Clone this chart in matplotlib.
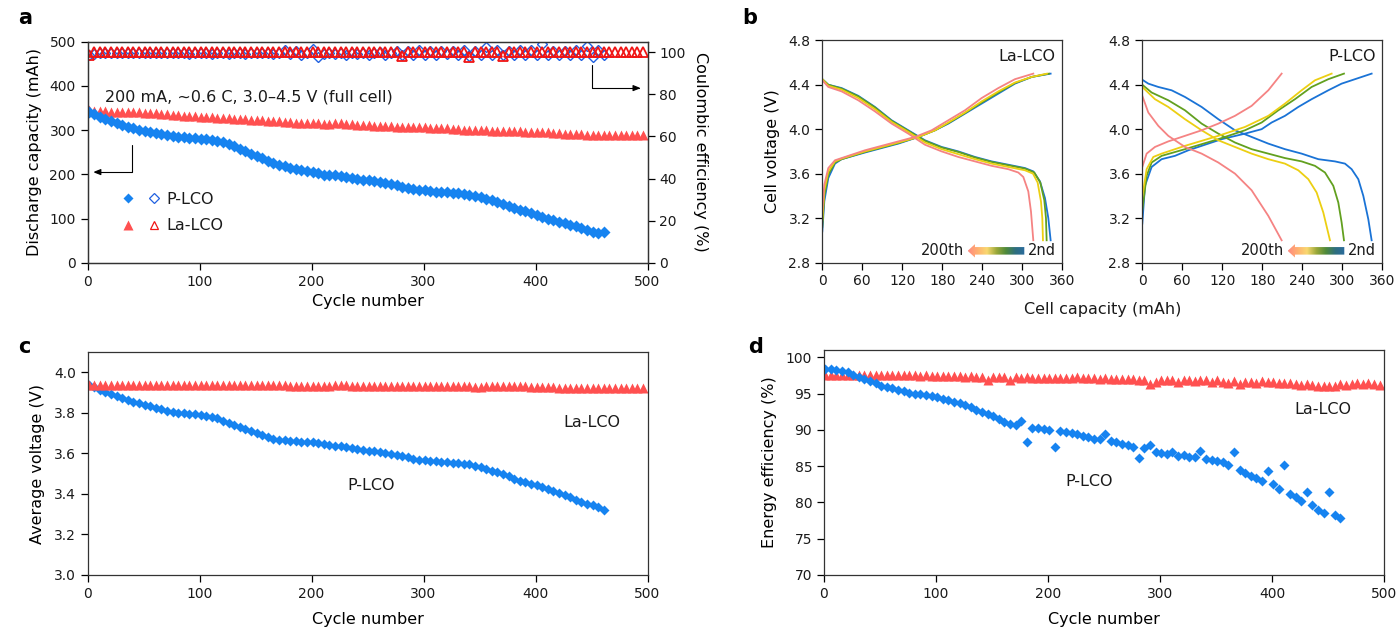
import numpy as np
import matplotlib
matplotlib.use("Agg")
import matplotlib.pyplot as plt
from matplotlib.patches import Polygon
from matplotlib.colors import LinearSegmentedColormap
from matplotlib.legend_handler import HandlerTuple
from matplotlib.lines import Line2D

plt.rcParams['font.family'] = ['DejaVu Sans']
plt.rcParams['axes.linewidth'] = 0.9
plt.rcParams['axes.edgecolor'] = '#333333'
plt.rcParams['xtick.major.size'] = 5
plt.rcParams['ytick.major.size'] = 5
plt.rcParams['xtick.major.width'] = 0.9
plt.rcParams['ytick.major.width'] = 0.9
plt.rcParams['xtick.labelsize'] = 10
plt.rcParams['ytick.labelsize'] = 10
plt.rcParams['text.color'] = '#1a1a1a'
plt.rcParams['xtick.labelcolor'] = '#1a1a1a'
plt.rcParams['ytick.labelcolor'] = '#1a1a1a'

# ---------------- data: cycling (sampled every 5 cycles) ----------------
CYCLE_STEP = 5
plco_capacity = [342, 336, 330, 325, 320, 315, 311, 307, 304, 301,
                 298, 295, 293, 291, 289, 287, 285, 284, 282, 281,
                 280, 279, 278, 276, 272, 268, 263, 257, 252, 246,
                 241, 236, 230, 225, 221, 218, 215, 212, 210, 208,
                 206, 203, 199, 199, 198, 196, 194, 192, 190, 188,
                 186, 184, 182, 180, 178, 175, 172, 169, 167, 165,
                 164, 163, 161, 160, 159, 158, 157, 156, 154, 151,
                 148, 145, 141, 137, 133, 129, 124, 120, 116, 112,
                 108, 104, 100, 96, 93, 89, 85, 82, 79, 75,
                 70, 68, 69]
lalco_capacity = [345, 344, 343, 343, 342, 342, 341, 341, 340, 340,
                  339, 338, 338, 337, 336, 335, 334, 333, 332, 331,
                  330, 330, 329, 328, 328, 327, 326, 325, 324, 323,
                  322, 322, 321, 320, 320, 319, 318, 317, 317, 316,
                  315, 315, 314, 314, 315, 316, 314, 313, 312, 311,
                  311, 310, 310, 309, 309, 308, 308, 307, 307, 306,
                  306, 305, 305, 304, 304, 303, 302, 301, 300, 300,
                  301, 300, 299, 298, 297, 298, 297, 297, 296, 296,
                  296, 295, 295, 294, 293, 292, 292, 291, 291, 290,
                  290, 290, 289, 289, 289, 288, 288, 289, 289, 290]
plco_ce = [98.9, 99.3, 99.4, 99.4, 99.5, 99.4, 99.5, 99.4, 99.5, 99.5,
           99.4, 99.5, 99.4, 99.5, 99.4, 99.5, 99.4, 99.5, 99.3, 99.5,
           99.4, 99.5, 99.3, 99.5, 99.6, 99.3, 99.5, 99.4, 99.3, 99.6,
           99.4, 99.5, 99.6, 99.3, 99.5, 101.0, 99.2, 100.8, 98.8, 99.5,
           101.3, 97.9, 99.3, 99.8, 99.0, 99.6, 98.8, 99.7, 99.2, 99.8,
           98.9, 99.5, 100.3, 98.8, 99.6, 100.6, 98.5, 100.8, 98.7, 100.9,
           98.9, 100.7, 98.6, 100.5, 99.0, 100.8, 98.8, 101.0, 98.4, 100.6,
           98.7, 102.7, 98.8, 101.1, 98.6, 100.7, 98.9, 101.1, 98.5, 100.9,
           98.7, 103.9, 98.8, 100.8, 98.6, 100.7, 98.9, 101.0, 98.8, 102.8,
           97.6, 100.9, 98.9]
lalco_ce = [98.6, 99.9, 100.0, 99.9, 100.0, 99.9, 100.0, 99.9, 100.0, 99.9,
            100.0, 99.9, 100.0, 99.9, 100.0, 99.9, 100.0, 99.9, 100.0, 99.9,
            100.0, 99.9, 100.0, 99.9, 100.0, 99.9, 100.0, 99.9, 100.0, 99.9,
            100.0, 99.9, 100.0, 99.9, 100.0, 99.9, 100.0, 99.9, 100.0, 99.9,
            100.0, 99.9, 100.0, 99.9, 100.0, 99.9, 100.0, 99.9, 100.0, 99.9,
            100.0, 99.9, 100.0, 99.9, 100.0, 99.9, 98.4, 99.9, 100.0, 99.9,
            100.0, 99.9, 100.0, 99.9, 100.0, 99.9, 100.0, 99.9, 97.6, 99.9,
            100.0, 99.9, 100.0, 99.9, 98.2, 99.9, 100.0, 99.9, 100.0, 99.9,
            100.0, 99.9, 100.0, 99.9, 100.0, 99.9, 100.0, 99.9, 100.0, 99.9,
            100.0, 99.9, 100.0, 99.9, 100.0, 99.9, 100.0, 99.9, 100.0, 99.9]
plco_voltage = [3.935, 3.925, 3.915, 3.905, 3.895, 3.885, 3.875, 3.865, 3.855, 3.848,
                3.840, 3.832, 3.825, 3.817, 3.810, 3.805, 3.800, 3.797, 3.795, 3.793,
                3.790, 3.785, 3.780, 3.772, 3.762, 3.752, 3.742, 3.732, 3.722, 3.712,
                3.700, 3.690, 3.680, 3.672, 3.667, 3.664, 3.662, 3.660, 3.658, 3.656,
                3.654, 3.650, 3.646, 3.642, 3.638, 3.634, 3.630, 3.626, 3.622, 3.618,
                3.614, 3.610, 3.606, 3.602, 3.597, 3.592, 3.586, 3.580, 3.574, 3.569,
                3.565, 3.562, 3.560, 3.558, 3.556, 3.554, 3.552, 3.550, 3.546, 3.540,
                3.532, 3.524, 3.515, 3.506, 3.496, 3.486, 3.476, 3.466, 3.457, 3.450,
                3.443, 3.435, 3.426, 3.416, 3.405, 3.394, 3.383, 3.372, 3.362, 3.352,
                3.343, 3.333, 3.322]
lalco_voltage = [3.936, 3.936, 3.937, 3.937, 3.937, 3.937, 3.937, 3.938, 3.938, 3.938,
                 3.938, 3.938, 3.938, 3.938, 3.938, 3.938, 3.938, 3.937, 3.937, 3.937,
                 3.937, 3.937, 3.937, 3.937, 3.937, 3.936, 3.936, 3.936, 3.936, 3.935,
                 3.935, 3.935, 3.935, 3.935, 3.935, 3.935, 3.934, 3.934, 3.934, 3.934,
                 3.934, 3.934, 3.933, 3.933, 3.936, 3.938, 3.935, 3.934, 3.934, 3.934,
                 3.934, 3.934, 3.933, 3.933, 3.933, 3.933, 3.933, 3.933, 3.932, 3.932,
                 3.932, 3.932, 3.932, 3.931, 3.931, 3.931, 3.931, 3.930, 3.930, 3.929,
                 3.929, 3.930, 3.930, 3.930, 3.931, 3.931, 3.931, 3.931, 3.930, 3.929,
                 3.928, 3.927, 3.926, 3.925, 3.924, 3.923, 3.922, 3.922, 3.921, 3.921,
                 3.920, 3.920, 3.920, 3.920, 3.921, 3.921, 3.921, 3.921, 3.921, 3.921]
plco_energy_eff = [98.4, 98.4, 98.3, 98.1, 97.9, 97.6, 97.3, 97.0, 96.7, 96.4,
                   96.1, 95.9, 95.7, 95.5, 95.3, 95.1, 95.0, 94.9, 94.8, 94.7,
                   94.5, 94.3, 94.1, 93.9, 93.7, 93.4, 93.1, 92.8, 92.5, 92.2,
                   91.9, 91.5, 91.1, 90.8, 90.6, 91.2, 88.3, 90.3, 90.2, 90.1,
                   90.0, 87.6, 89.8, 89.7, 89.6, 89.4, 89.2, 89.0, 88.8, 88.7,
                   89.4, 88.5, 88.3, 88.1, 87.9, 87.7, 86.1, 87.5, 87.9, 87.0,
                   86.8, 86.7, 86.9, 86.4, 86.5, 86.3, 86.2, 87.1, 86.0, 85.9,
                   85.7, 85.6, 85.1, 87.0, 84.4, 84.0, 83.6, 83.3, 83.0, 84.3,
                   82.5, 81.9, 85.1, 81.2, 80.7, 80.2, 81.4, 79.6, 79.0, 78.6,
                   81.4, 78.2, 77.9]
lalco_energy_eff = [97.6, 97.6, 97.6, 97.6, 97.6, 97.6, 97.6, 97.5, 97.6, 97.5,
                    97.5, 97.5, 97.6, 97.5, 97.5, 97.5, 97.5, 97.4, 97.5, 97.4,
                    97.4, 97.4, 97.4, 97.4, 97.4, 97.3, 97.4, 97.3, 97.3, 96.9,
                    97.3, 97.3, 97.3, 96.9, 97.3, 97.2, 97.3, 97.2, 97.2, 97.2,
                    97.2, 97.2, 97.1, 97.2, 97.2, 97.3, 97.1, 97.1, 97.1, 97.0,
                    97.1, 97.0, 97.0, 97.0, 97.0, 97.0, 96.9, 96.9, 96.3, 96.6,
                    96.8, 96.9, 96.8, 96.6, 96.8, 96.8, 96.7, 96.8, 96.8, 96.6,
                    96.8, 96.6, 96.5, 96.7, 96.3, 96.6, 96.6, 96.5, 96.7, 96.6,
                    96.6, 96.5, 96.5, 96.4, 96.3, 96.2, 96.3, 96.2, 96.1, 96.0,
                    96.0, 96.1, 96.3, 96.2, 96.3, 96.4, 96.3, 96.4, 96.3, 96.2]

# ---------------- data: voltage profiles (capacity mAh, voltage V) ----------------
la_charge = {
    '2nd':   ([0, 3, 9, 19, 29, 64, 114, 144, 169, 189, 214, 239, 264, 289, 314, 342.5],
              [3.08, 3.35, 3.56, 3.69, 3.73, 3.79, 3.87, 3.93, 3.99, 4.05, 4.14, 4.23, 4.32, 4.41, 4.47, 4.50]),
    'mid1':  ([0, 3, 9, 19, 29, 64, 114, 144, 169, 189, 214, 239, 264, 289, 314, 340],
              [3.12, 3.40, 3.59, 3.70, 3.73, 3.795, 3.875, 3.93, 3.99, 4.055, 4.145, 4.24, 4.33, 4.415, 4.47, 4.50]),
    'mid2':  ([0, 3, 9, 19, 29, 64, 114, 144, 169, 189, 214, 239, 264, 289, 314, 337],
              [3.18, 3.45, 3.62, 3.71, 3.735, 3.80, 3.88, 3.93, 3.99, 4.06, 4.15, 4.25, 4.34, 4.42, 4.47, 4.50]),
    '200th': ([0, 3, 9, 19, 29, 64, 114, 139, 164, 189, 214, 239, 264, 289, 316.5],
              [3.26, 3.50, 3.65, 3.72, 3.74, 3.81, 3.89, 3.93, 3.99, 4.08, 4.17, 4.28, 4.37, 4.45, 4.50]),
}
la_discharge = {
    '2nd':   ([0, 9, 29, 54, 79, 104, 129, 154, 179, 204, 229, 254, 279, 304, 316.5, 326.5, 334, 339, 342.5],
              [4.45, 4.40, 4.37, 4.30, 4.20, 4.08, 3.99, 3.90, 3.84, 3.80, 3.75, 3.71, 3.68, 3.65, 3.62, 3.53, 3.38, 3.20, 3.00]),
    'mid1':  ([0, 9, 29, 54, 79, 104, 129, 154, 179, 204, 229, 254, 279, 304, 318, 327, 333, 335.5, 336.5],
              [4.45, 4.40, 4.365, 4.295, 4.195, 4.075, 3.985, 3.895, 3.835, 3.795, 3.745, 3.705, 3.675, 3.645, 3.61, 3.52, 3.36, 3.20, 3.00]),
    'mid2':  ([0, 9, 29, 54, 79, 104, 129, 154, 179, 204, 229, 254, 279, 304, 316, 323, 328, 330, 331],
              [4.45, 4.39, 4.355, 4.28, 4.18, 4.065, 3.975, 3.88, 3.82, 3.775, 3.73, 3.69, 3.66, 3.63, 3.60, 3.52, 3.35, 3.20, 3.00]),
    '200th': ([0, 9, 29, 54, 79, 104, 129, 154, 179, 204, 229, 254, 279, 294, 301.5, 309, 313, 316.5],
              [4.44, 4.38, 4.34, 4.26, 4.16, 4.05, 3.96, 3.86, 3.80, 3.75, 3.71, 3.67, 3.64, 3.61, 3.57, 3.44, 3.26, 3.00]),
}
p_charge = {
    '2nd':   ([0, 4, 14, 29, 49, 69, 89, 119, 154, 179, 194, 214, 234, 254, 279, 299, 319, 344],
              [3.15, 3.49, 3.66, 3.73, 3.76, 3.81, 3.85, 3.91, 3.96, 4.00, 4.06, 4.12, 4.20, 4.27, 4.35, 4.41, 4.45, 4.50]),
    'mid1':  ([0, 6.5, 14, 29, 64, 114, 154, 179, 204, 229, 254, 279, 302.5],
              [3.27, 3.58, 3.70, 3.76, 3.82, 3.91, 3.99, 4.06, 4.17, 4.27, 4.38, 4.45, 4.50]),
    'mid2':  ([0, 6.5, 16.5, 29, 64, 114, 154, 189, 214, 239, 259, 284],
              [3.39, 3.64, 3.75, 3.78, 3.85, 3.94, 4.02, 4.12, 4.23, 4.35, 4.44, 4.50]),
    '200th': ([0, 6.5, 19, 39, 64, 89, 114, 139, 164, 189, 209],
              [3.66, 3.78, 3.84, 3.89, 3.94, 3.99, 4.05, 4.12, 4.21, 4.35, 4.50]),
}
p_discharge = {
    '2nd':   ([0, 9, 24, 44, 64, 89, 114, 139, 164, 189, 214, 239, 264, 289, 304, 314, 324, 331.5, 339, 344],
              [4.445, 4.41, 4.38, 4.35, 4.29, 4.20, 4.09, 3.99, 3.93, 3.87, 3.82, 3.78, 3.73, 3.71, 3.69, 3.64, 3.55, 3.40, 3.19, 3.00]),
    'mid1':  ([0, 14, 39, 64, 89, 114, 139, 164, 189, 214, 239, 259, 274, 286.5, 294, 299, 302.5],
              [4.40, 4.33, 4.26, 4.17, 4.05, 3.96, 3.88, 3.82, 3.78, 3.74, 3.71, 3.67, 3.61, 3.49, 3.34, 3.16, 3.00]),
    'mid2':  ([0, 19, 39, 64, 89, 114, 139, 164, 189, 214, 234, 249, 261.5, 271.5, 281.5],
              [4.38, 4.27, 4.20, 4.09, 3.99, 3.90, 3.84, 3.78, 3.73, 3.69, 3.63, 3.55, 3.43, 3.25, 3.00]),
    '200th': ([0, 9, 24, 39, 64, 89, 114, 139, 164, 189, 209],
              [4.30, 4.15, 4.03, 3.94, 3.84, 3.78, 3.70, 3.60, 3.45, 3.22, 3.00]),
}
curve_colors = {'2nd': '#1a73d6', 'mid1': '#62a01f', 'mid2': '#eccf12', '200th': '#f58383'}
curve_order = ['2nd', 'mid1', 'mid2', '200th']

BLUE = '#1683f0'
RED = '#ff5050'
OPEN_BLUE = '#2060e0'
OPEN_RED = '#f01414'

def cycles(vals):
    return np.arange(1, 1 + CYCLE_STEP * len(vals), CYCLE_STEP)

W, H = 1398, 632
fig = plt.figure(figsize=(W / 100, H / 100), dpi=100)

def rect(l, r, t, b):
    return [l / W, 1 - b / H, (r - l) / W, (b - t) / H]

LBL = 11.5

# ---------------- panel a ----------------
axa = fig.add_axes(rect(87.5, 647.5, 41.7, 262.7))
axa.plot(cycles(lalco_capacity), lalco_capacity, ls='none', marker='^', ms=7.5, color=RED, mec='none')
axa.plot(cycles(plco_capacity), plco_capacity, ls='none', marker='D', ms=6, color=BLUE, mec='none')
axa.set_xlim(0, 500)
axa.set_ylim(0, 500)
axa.set_xticks(range(0, 501, 100))
axa.set_yticks(range(0, 501, 100))
axa.set_xlabel('Cycle number', fontsize=LBL, labelpad=4)
axa.set_ylabel('Discharge capacity (mAh)', fontsize=LBL, labelpad=5)
axa2 = axa.twinx()
axa2.plot(cycles(plco_ce), plco_ce, ls='none', marker='D', ms=5.5, mfc='none', mec=OPEN_BLUE, mew=1.0)
axa2.plot(cycles(lalco_ce), lalco_ce, ls='none', marker='^', ms=6.5, mfc='none', mec=OPEN_RED, mew=1.3)
axa2.set_ylim(0, 105)
axa2.set_yticks(range(0, 101, 20))
axa2.set_ylabel('Coulombic efficiency (%)', fontsize=LBL, rotation=270, labelpad=16)
axa.text(16, 375, '200 mA, ~0.6 C, 3.0–4.5 V (full cell)', fontsize=LBL, va='center', ha='left')
arr = dict(arrowstyle='-|>,head_length=0.45,head_width=0.18', color='black', lw=0.8,
           connectionstyle='angle,angleA=90,angleB=0,rad=0', shrinkA=0, shrinkB=0)
axa.annotate('', xy=(5, 205), xytext=(40, 266), arrowprops=arr)
axa.annotate('', xy=(494, 395), xytext=(450, 447), arrowprops=arr)
h_p = (Line2D([], [], ls='none', marker='D', ms=5.5, color=BLUE, mec='none'),
       Line2D([], [], ls='none', marker='D', ms=5, mfc='none', mec=OPEN_BLUE, mew=0.9))
h_l = (Line2D([], [], ls='none', marker='^', ms=6.5, color=RED, mec='none'),
       Line2D([], [], ls='none', marker='^', ms=5.5, mfc='none', mec=OPEN_RED, mew=0.9))
axa.legend([h_p, h_l], ['P-LCO', 'La-LCO'], handler_map={tuple: HandlerTuple(ndivide=None, pad=0.5)},
           loc='upper left', bbox_to_anchor=(0.057, 0.32), frameon=False, fontsize=LBL,
           handlelength=2.75, handletextpad=0.2, labelspacing=0.72, borderpad=0, borderaxespad=0)

# ---------------- panel b ----------------
grad_cmap = LinearSegmentedColormap.from_list('g', ['#ff8a80', '#ffb070', '#f9d870', '#9aa83a',
                                                    '#4f8a3a', '#2f6f7f', '#2a6b9e'])

def grad_arrow(ax, x_tip, x_tail, yc):
    sh, hh, hl = 0.034, 0.06, 11
    poly = Polygon([[x_tip, yc], [x_tip + hl, yc + hh], [x_tip + hl, yc + sh], [x_tail, yc + sh],
                    [x_tail, yc - sh], [x_tip + hl, yc - sh], [x_tip + hl, yc - hh]],
                   closed=True, facecolor='none', edgecolor='none', transform=ax.transData)
    ax.add_patch(poly)
    g = np.linspace(0, 1, 256).reshape(1, -1)
    im = ax.imshow(g, cmap=grad_cmap, extent=[x_tip, x_tail, yc - hh, yc + hh], aspect='auto',
                   zorder=3, interpolation='bilinear')
    im.set_clip_path(poly)
    ax.text(x_tip - 5, yc, '200th', fontsize=10.5, ha='right', va='center')
    ax.text(x_tail + 5, yc, '2nd', fontsize=10.5, ha='left', va='center')

def profile_panel(ax, charge, discharge, name):
    for k in curve_order:
        ax.plot(*charge[k], color=curve_colors[k], lw=1.3)
        ax.plot(*discharge[k], color=curve_colors[k], lw=1.3)
    ax.set_xlim(0, 360)
    ax.set_ylim(2.8, 4.8)
    ax.set_xticks(range(0, 361, 60))
    ax.set_yticks([2.8, 3.2, 3.6, 4.0, 4.4, 4.8])
    ax.set_yticklabels(['2.8', '3.2', '3.6', '4.0', '4.4', '4.8'])
    ax.text(350, 4.655, name, fontsize=LBL, ha='right', va='center')
    grad_arrow(ax, 218, 303, 2.905)

axb1 = fig.add_axes(rect(822.3, 1062.3, 40.3, 262.5))
profile_panel(axb1, la_charge, la_discharge, 'La-LCO')
axb1.set_ylabel('Cell voltage (V)', fontsize=LBL, labelpad=6)
axb2 = fig.add_axes(rect(1142.3, 1382.3, 40.3, 262.5))
profile_panel(axb2, p_charge, p_discharge, 'P-LCO')
fig.text(1103 / W, 1 - 310 / H, 'Cell capacity (mAh)', fontsize=LBL, ha='center', va='center')

# ---------------- panel c ----------------
axc = fig.add_axes(rect(87.5, 647.5, 352, 575))
axc.plot(cycles(plco_voltage), plco_voltage, ls='none', marker='D', ms=5.5, color=BLUE, mec='none')
axc.plot(cycles(lalco_voltage), lalco_voltage, ls='none', marker='^', ms=7, color=RED, mec='none')
axc.set_xlim(0, 500)
axc.set_ylim(3.0, 4.1)
axc.set_xticks(range(0, 501, 100))
axc.set_yticks([3.0, 3.2, 3.4, 3.6, 3.8, 4.0])
axc.set_yticklabels(['3.0', '3.2', '3.4', '3.6', '3.8', '4.0'])
axc.set_xlabel('Cycle number', fontsize=LBL, labelpad=8)
axc.set_ylabel('Average voltage (V)', fontsize=LBL, labelpad=6)
axc.text(450, 3.75, 'La-LCO', fontsize=LBL, ha='center', va='center')
axc.text(253, 3.44, 'P-LCO', fontsize=LBL, ha='center', va='center')

# ---------------- panel d ----------------
axd = fig.add_axes(rect(824, 1384, 350, 575))
axd.plot(cycles(lalco_energy_eff), lalco_energy_eff, ls='none', marker='^', ms=6.5, color=RED, mec='none')
axd.plot(cycles(plco_energy_eff), plco_energy_eff, ls='none', marker='D', ms=5.5, color=BLUE, mec='none')
axd.set_xlim(0, 500)
axd.set_ylim(70, 101)
axd.set_xticks(range(0, 501, 100))
axd.set_yticks(range(70, 101, 5))
axd.set_xlabel('Cycle number', fontsize=LBL, labelpad=8)
axd.set_ylabel('Energy efficiency (%)', fontsize=LBL, labelpad=6)
axd.text(445, 92.85, 'La-LCO', fontsize=LBL, ha='center', va='center')
axd.text(237, 82.85, 'P-LCO', fontsize=LBL, ha='center', va='center')

for x, y, s in [(18, 18, 'a'), (742, 18, 'b'), (18, 347, 'c'), (748, 347, 'd')]:
    fig.text(x / W, 1 - y / H, s, fontsize=15, fontweight='bold', ha='left', va='center', color='black')

fig.savefig('out.png', dpi=100)
